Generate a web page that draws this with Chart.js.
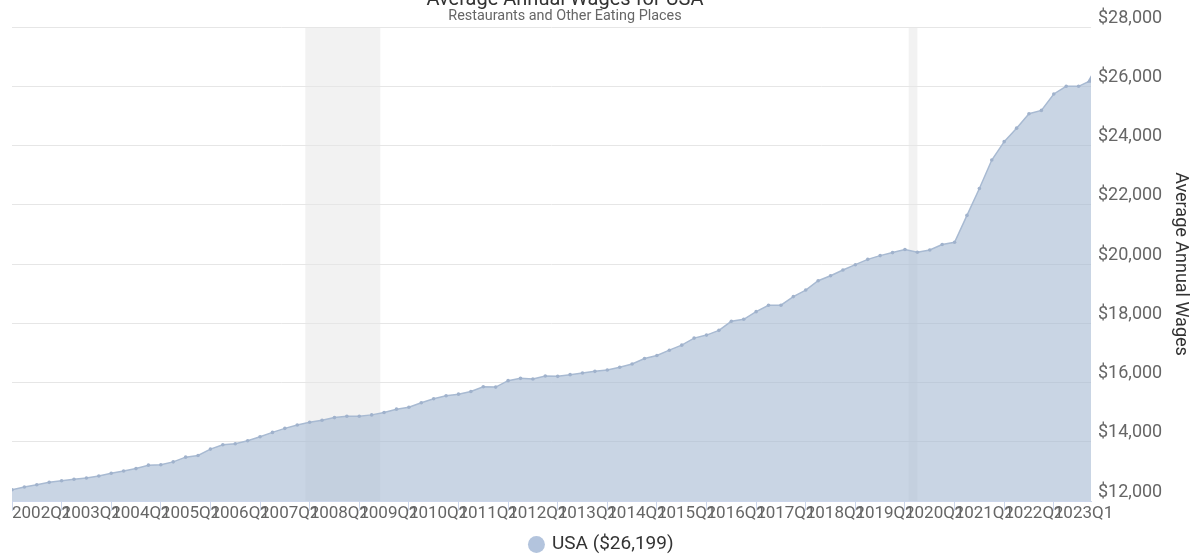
<!DOCTYPE html>
<html>
<head>
<meta charset="utf-8">
<title>Average Annual Wages for USA</title>
<script src="https://cdn.jsdelivr.net/npm/chart.js@4.4.0/dist/chart.umd.min.js"></script>
<style>
  body { margin: 0; background: #fff; }
  canvas { display: block; }
</style>
</head>
<body>
<canvas id="canvas" width="1192" height="558"></canvas>
<script>
const canvas = document.getElementById('canvas');
const ctx = canvas.getContext('2d');

const titleText = 'Average Annual Wages for USA';
const subtitleText = 'Restaurants and Other Eating Places';
const axisTitle = 'Average Annual Wages';

const years = [2002, 2003, 2004, 2005, 2006, 2007, 2008, 2009, 2010, 2011, 2012,
  2013, 2014, 2015, 2016, 2017, 2018, 2019, 2020, 2021, 2022, 2023];
const quarterNames = ['Q1', 'Q2', 'Q3', 'Q4'];
const quarters = years.flatMap((y) => quarterNames.map((q) => y + q));

// quarterly average annual wages, 2002Q1 .. 2023Q4
const wages = [
  12380, 12472, 12550, 12630,
  12686, 12733, 12778, 12846,
  12937, 13015, 13094, 13210,
  13225, 13321, 13480, 13535,
  13752, 13898, 13932, 14034,
  14170, 14316, 14452, 14567,
  14656, 14724, 14815, 14860,
  14860, 14907, 14985, 15100,
  15166, 15314, 15450, 15552,
  15607, 15698, 15858, 15845,
  16062, 16140, 16117, 16218,
  16207, 16265, 16320, 16377,
  16422, 16513, 16626, 16809,
  16911, 17091, 17261, 17498,
  17600, 17760, 18065, 18133,
  18391, 18608, 18608, 18900,
  19120, 19434, 19603, 19797,
  19977, 20157, 20283, 20385,
  20487, 20396, 20475, 20656,
  20735, 21641, 22548, 23509,
  24130, 24585, 25071, 25184,
  25740, 25998, 25998, 26199,
];

// recession periods, in quarter index units
const recessionStart = [23.65, 72.3];
const recessionEnd = [29.7, 73.0];

const yMin = 12000;
const yMax = 28000;
const yStep = 2000;

const last = wages.length - 1;
const points = wages.map((v, i) => ({ x: i, y: v }));

const recessionBands = {
  id: 'recessionBands',
  beforeDraw(chart) {
    const { ctx, chartArea, scales } = chart;
    ctx.save();
    ctx.fillStyle = '#f2f2f2';
    recessionStart.forEach((s, i) => {
      const x0 = scales.x.getPixelForValue(s);
      const x1 = scales.x.getPixelForValue(recessionEnd[i]);
      ctx.fillRect(x0, chartArea.top, x1 - x0, chartArea.bottom - chartArea.top);
    });
    ctx.restore();
  },
};

const titles = {
  id: 'titles',
  afterDraw(chart) {
    const c = chart.ctx;
    c.save();
    c.textAlign = 'center';
    c.textBaseline = 'alphabetic';
    c.fillStyle = '#333333';
    c.font = '20px Roboto';
    c.fillText(titleText, 565, 5);
    c.fillStyle = '#666666';
    c.font = '14.4px Roboto';
    c.fillText(subtitleText, 565, 20);
    c.restore();
  },
};

Chart.defaults.font.family = 'Roboto';

const myChart = new Chart(ctx, {
  type: 'line',
  data: {
    datasets: [
      {
        label: `USA ($${wages[last].toLocaleString('en-US')})`,
        data: points,
        fill: 'start',
        tension: 0,
        borderColor: 'rgb(168,186,210)',
        borderWidth: 1.5,
        backgroundColor: 'rgba(165,185,210,0.6)',
        pointStyle: (c) => (c.dataIndex === last ? 'triangle' : 'circle'),
        pointRadius: (c) => (c.dataIndex === last ? 5 : 1.8),
        pointBackgroundColor: 'rgb(160,178,204)',
        pointBorderWidth: 0,
      },
    ],
  },
  options: {
    responsive: false,
    animation: false,
    layout: { padding: { top: 27, left: 12, right: 0, bottom: -6 } },
    plugins: {
      legend: {
        position: 'bottom',
        labels: {
          color: '#333333',
          font: { size: 19 },
          usePointStyle: true,
          boxWidth: 12,
          boxHeight: 12,
          padding: 7,
          generateLabels: (chart) =>
            Chart.defaults.plugins.legend.labels.generateLabels(chart).map((l) => ({
              ...l,
              fillStyle: '#b3c4dd',
              strokeStyle: '#b3c4dd',
              lineWidth: 0,
            })),
        },
      },
      tooltip: { enabled: false },
    },
    scales: {
      x: {
        type: 'linear',
        min: 0,
        max: last,
        grid: {
          drawOnChartArea: false,
          drawTicks: true,
          tickLength: 10,
          color: '#ccd6eb',
        },
        border: { display: true, color: '#ccd6eb' },
        ticks: {
          stepSize: 4,
          includeBounds: false,
          autoSkip: false,
          maxRotation: 0,
          minRotation: 0,
          align: 'start',
          padding: -7,
          color: '#666666',
          font: { size: 17 },
          callback: (v) => quarters[v],
        },
        afterFit: (scale) => {
          scale.height = 27;
        },
      },
      y: {
        position: 'right',
        min: yMin,
        max: yMax,
        grid: { color: '#e6e6e6', drawTicks: false },
        border: { display: false },
        ticks: {
          stepSize: yStep,
          padding: 7,
          labelOffset: -9,
          color: '#666666',
          font: { size: 18 },
          callback: (v) => '$' + v.toLocaleString('en-US'),
        },
        title: {
          display: true,
          text: axisTitle,
          color: '#333333',
          font: { size: 18 },
          padding: 1,
        },
        afterFit: (scale) => {
          scale.width = 101;
        },
      },
    },
  },
  plugins: [recessionBands, titles],
});
</script>
</body>
</html>
